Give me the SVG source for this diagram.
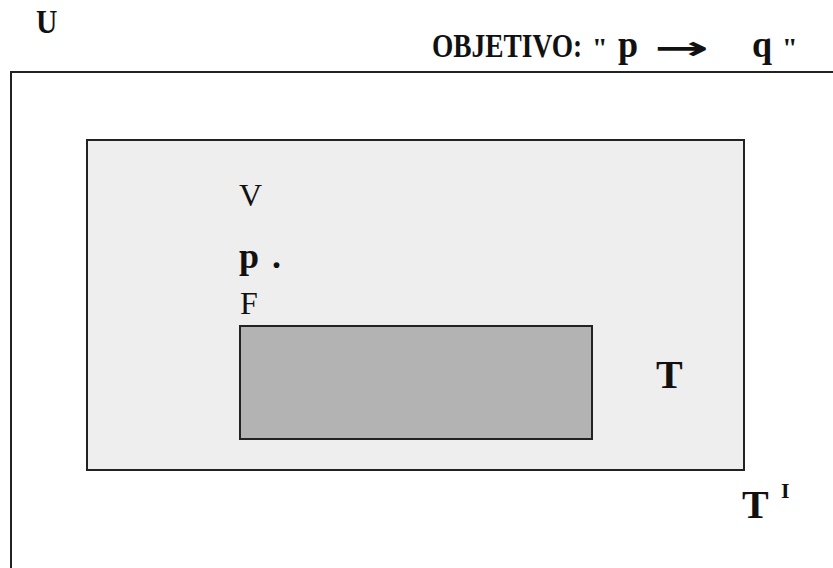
<svg xmlns="http://www.w3.org/2000/svg" width="833" height="568" viewBox="0 0 833 568">
  <style>
    .frame { stroke: #222; stroke-width: 2; }
    .lbl { font-family: "Liberation Serif", "Times New Roman", serif; fill: #111; }
    .b { font-weight: bold; }
    .sym { font-family: "DejaVu Sans", sans-serif; font-weight: bold; fill: #111; }
  </style>
  <rect width="833" height="568" fill="#ffffff"/>

  <!-- universe U -->
  <g id="universe">
    <rect class="frame" x="11" y="72" width="840" height="520" fill="#ffffff"/>
    <text class="lbl b" transform="translate(36 33) scale(0.87 1)" font-size="34">U</text>
  </g>

  <!-- goal statement: p implies q (condensed lettering) -->
  <g id="goal">
    <text class="lbl b" transform="translate(432 57) scale(0.83 1)" font-size="33">OBJETIVO:</text>
    <text class="lbl b" x="592" y="57" font-size="28">"</text>
    <text class="lbl b" transform="translate(618 57) scale(0.95 1)" font-size="38">p</text>
    <text class="sym" transform="translate(654 59) scale(2.05 1)" font-size="32">→</text>
    <text class="lbl b" transform="translate(752 57) scale(0.95 1)" font-size="38">q</text>
    <text class="lbl b" x="782" y="57" font-size="28">"</text>
  </g>

  <!-- set T -->
  <g id="set-T">
    <rect class="frame" x="87" y="140" width="657" height="330" fill="#eeeeee"/>
    <text class="lbl b" x="656" y="388" font-size="40">T</text>
  </g>

  <!-- complement label -->
  <g id="set-T-complement">
    <text class="lbl b" x="742" y="518" font-size="40">T</text>
    <text class="lbl b" x="781" y="498" font-size="22">I</text>
  </g>

  <!-- truth values of p -->
  <g id="truth-values">
    <text class="lbl" x="239" y="206" font-size="32" fill="#333">V</text>
    <text class="lbl b" x="239" y="268" font-size="36">p</text>
    <text class="lbl b" x="272" y="268" font-size="36">.</text>
    <text class="lbl" x="240" y="314" font-size="32" fill="#333">F</text>
  </g>

  <!-- false region -->
  <g id="region-F">
    <rect class="frame" x="240" y="326" width="352" height="113" fill="#b3b3b3"/>
  </g>

  <g id="connectors"/>
</svg>
